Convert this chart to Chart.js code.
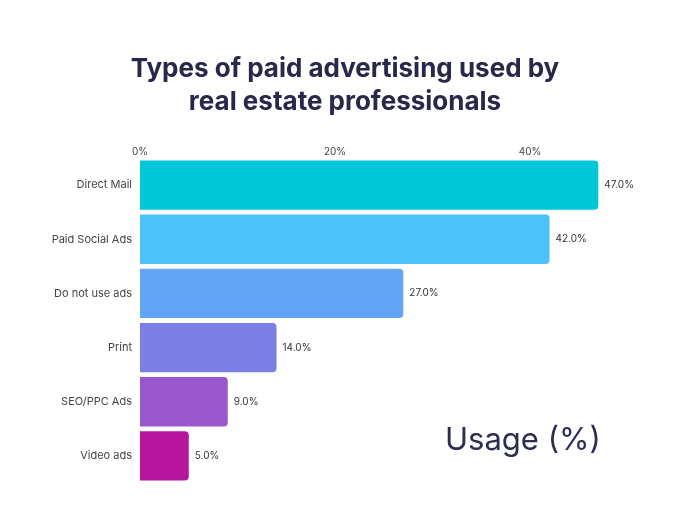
<!DOCTYPE html>
<html>
<head>
<meta charset="utf-8">
<script src="https://cdn.jsdelivr.net/npm/chart.js@4.4.1/dist/chart.umd.min.js"></script>
<style>
html,body{margin:0;padding:0;background:#fff;}
#wrap{position:relative;width:690px;height:530px;}
#usage{position:absolute;left:445px;top:420px;font-family:Inter,"Open Sans",sans-serif;font-size:31px;color:#2b2d52;white-space:nowrap;}
</style>
</head>
<body>
<div id="wrap">
<canvas id="c" width="690" height="530"></canvas>
<div id="usage">Usage (%)</div>
</div>
<script>
const categories = ["Direct Mail", "Paid Social Ads", "Do not use ads", "Print", "SEO/PPC Ads", "Video ads"];
const usageValues = [47.0, 42.0, 27.0, 14.0, 9.0, 5.0];
const barColors = ["#00C8D8", "#4BC3FA", "#63A5F5", "#7C80E5", "#9858CB", "#B8159E"];
const xTickValues = [0, 20, 40];
const titleLines = ["Types of paid advertising used by", "real estate professionals"];

const FONT = 'Inter, "Open Sans", sans-serif';

const valueLabels = {
  id: 'valueLabels',
  afterDatasetsDraw(chart) {
    const ctx = chart.ctx;
    const meta = chart.getDatasetMeta(0);
    ctx.save();
    ctx.font = '10px ' + FONT;
    ctx.fillStyle = '#333';
    ctx.textAlign = 'left';
    ctx.textBaseline = 'middle';
    meta.data.forEach((bar, i) => {
      ctx.fillText(usageValues[i].toFixed(1) + '%', bar.x + 6, bar.y);
    });
    ctx.restore();
  }
};

new Chart(document.getElementById('c'), {
  type: 'bar',
  data: {
    labels: categories,
    datasets: [{
      data: usageValues,
      backgroundColor: barColors,
      borderRadius: 4,
      borderSkipped: 'start',
      barPercentage: 0.91,
      categoryPercentage: 1.0
    }]
  },
  options: {
    indexAxis: 'y',
    responsive: false,
    animation: false,
    layout: { padding: { left: 0, right: 0, top: 40, bottom: 47 } },
    plugins: {
      legend: { display: false },
      tooltip: { enabled: false },
      title: {
        display: true,
        text: titleLines,
        color: '#27284a',
        font: { family: FONT, size: 26, weight: 'bold', lineHeight: 1.25 },
        padding: { top: 13, bottom: 10 }
      }
    },
    scales: {
      x: {
        position: 'top',
        min: 0,
        max: 56.4,
        grid: { display: false, drawTicks: false },
        border: { display: false },
        afterFit(scale) { scale.height = 30; },
        afterBuildTicks(scale) { scale.ticks = xTickValues.map(v => ({ value: v })); },
        ticks: {
          color: '#444',
          font: { family: FONT, size: 10 },
          padding: 0,
          callback: v => v + '%'
        }
      },
      y: {
        grid: { display: false, drawTicks: false },
        border: { display: false },
        afterFit(scale) { scale.width = 140; },
        ticks: {
          color: '#444',
          font: { family: FONT, size: 11 },
          padding: 8
        }
      }
    }
  },
  plugins: [valueLabels]
});
</script>
</body>
</html>
